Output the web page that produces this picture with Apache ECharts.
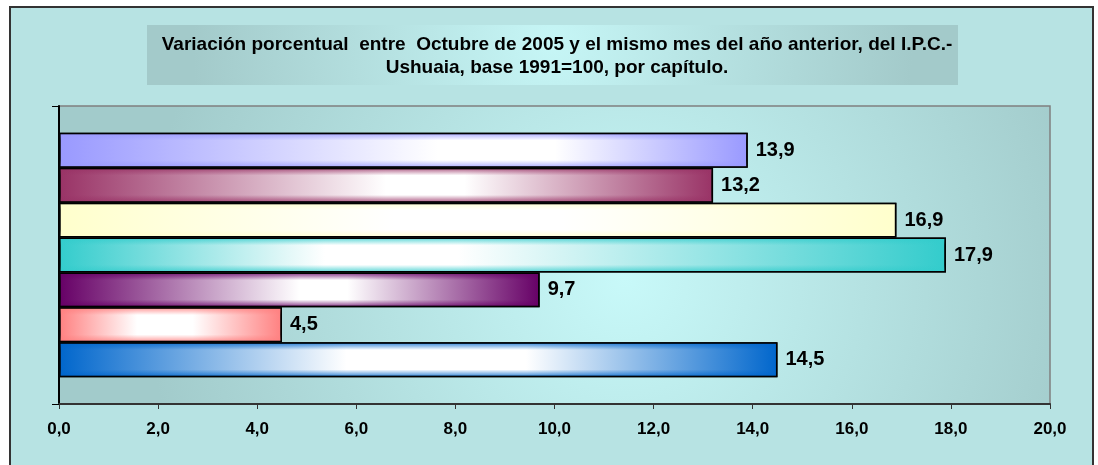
<!DOCTYPE html>
<html>
<head>
<meta charset="utf-8">
<script src="https://cdn.jsdelivr.net/npm/echarts@6/dist/echarts.min.js"></script>
<style>
html,body{margin:0;padding:0;background:#fff;}
#c{width:1098px;height:465px;}
</style>
</head>
<body>
<div id="c"></div>
<script>
// Series in order from top bar to bottom bar
var values = [13.9, 13.2, 16.9, 17.9, 9.7, 4.5, 14.5];
var colors = ['#9999ff', '#993366', '#ffffcc', '#33cccc', '#660066', '#ff8080', '#0066cc'];
var whiteFrom = [0.55, 0.5, 0.4, 0.3, 0.5, 0.35, 0.4];
var whiteTo = [0.72, 0.62, 0.6, 0.45, 0.6, 0.6, 0.65];
var categories = [''];
var xTicks = {min: 0, max: 20, interval: 2};
var titleText = 'Variación porcentual  entre  Octubre de 2005 y el mismo mes del año anterior, del I.P.C.-\nUshuaia, base 1991=100, por capítulo.';

function fmt(v) { return Number(v).toFixed(1).replace('.', ','); }
function alpha(hex, a) {
  var r = parseInt(hex.substr(1, 2), 16), g = parseInt(hex.substr(3, 2), 16), b = parseInt(hex.substr(5, 2), 16);
  return 'rgba(' + r + ',' + g + ',' + b + ',' + a + ')';
}
var font = 'Liberation Sans, Arial, sans-serif';

var series = [];
values.forEach(function (v, i) {
  series.push({
    type: 'bar',
    data: [v],
    barGap: '0%',
    barCategoryGap: '18%',
    z: 2,
    itemStyle: {
      color: {
        type: 'linear', x: 0, y: 0, x2: 1, y2: 0,
        colorStops: [
          {offset: 0, color: colors[i]},
          {offset: whiteFrom[i], color: '#ffffff'},
          {offset: whiteTo[i], color: '#ffffff'},
          {offset: 1, color: colors[i]}
        ]
      },
      borderColor: '#000',
      borderWidth: 1.5
    },
    label: {
      show: true, position: 'right', distance: 8,
      formatter: function (p) { return fmt(p.value); },
      color: '#000', fontWeight: 'bold', fontSize: 20, fontFamily: font
    },
    silent: true
  });
});
// vertical shading overlay on the same bars (second identical axis pair)
values.forEach(function (v, i) {
  series.push({
    type: 'bar',
    xAxisIndex: 1, yAxisIndex: 1,
    data: [v],
    barGap: '0%',
    barCategoryGap: '18%',
    z: 3,
    itemStyle: {
      color: {
        type: 'linear', x: 0, y: 0, x2: 0, y2: 1,
        colorStops: [
          {offset: 0, color: alpha(colors[i], 0.85)},
          {offset: 0.22, color: alpha(colors[i], 0)},
          {offset: 0.78, color: alpha(colors[i], 0)},
          {offset: 1, color: alpha(colors[i], 0.85)}
        ]
      },
      borderColor: '#000',
      borderWidth: 1.5
    },
    label: {show: false},
    silent: true
  });
});

var chart = echarts.init(document.getElementById('c'));
chart.setOption({
  backgroundColor: '#ffffff',
  animation: false,
  graphic: [
    {type: 'rect', z: -20, shape: {x: 10, y: 7, width: 1083, height: 470},
     style: {fill: '#b7e3e3', stroke: '#333', lineWidth: 2}},
    {type: 'rect', z: -10, shape: {x: 147, y: 25, width: 811, height: 60},
     style: {fill: {type: 'radial', x: 0.5, y: 0.3, r: 6, colorStops: [
       {offset: 0, color: '#c6f6f6'}, {offset: 1, color: '#a3caca'}]}}}
  ],
  title: {
    text: titleText,
    left: 552, top: 28, textAlign: 'center', z: 10,
    textStyle: {fontSize: 19, fontWeight: 'bold', color: '#000', lineHeight: 23, fontFamily: font}
  },
  grid: [{
    left: 59, top: 106, width: 991, height: 298,
    show: true,
    backgroundColor: {type: 'radial', x: 0.57, y: 0.58, r: 1.6, colorStops: [
      {offset: 0, color: '#c8f9f9'}, {offset: 1, color: '#a2cbcb'}]},
    borderColor: '#808080', borderWidth: 1.5
  }, {
    left: 59, top: 106, width: 991, height: 298, show: false
  }],
  xAxis: [{
    type: 'value', min: xTicks.min, max: xTicks.max, interval: xTicks.interval,
    axisLine: {show: true, lineStyle: {color: '#333', width: 2}},
    axisTick: {show: true, length: 5, lineStyle: {color: '#333'}},
    splitLine: {show: false},
    axisLabel: {formatter: fmt, margin: 17, color: '#000', fontWeight: 'bold', fontSize: 17, fontFamily: font}
  }, {
    type: 'value', gridIndex: 1, min: xTicks.min, max: xTicks.max, interval: xTicks.interval,
    show: false
  }],
  yAxis: [{
    type: 'category', data: categories,
    axisLine: {show: true, lineStyle: {color: '#000', width: 2}},
    axisTick: {show: true, length: 7, lineStyle: {color: '#000'}},
    axisLabel: {show: false},
    splitLine: {show: false}
  }, {
    type: 'category', gridIndex: 1, data: categories, show: false
  }],
  series: series
});
</script>
</body>
</html>
